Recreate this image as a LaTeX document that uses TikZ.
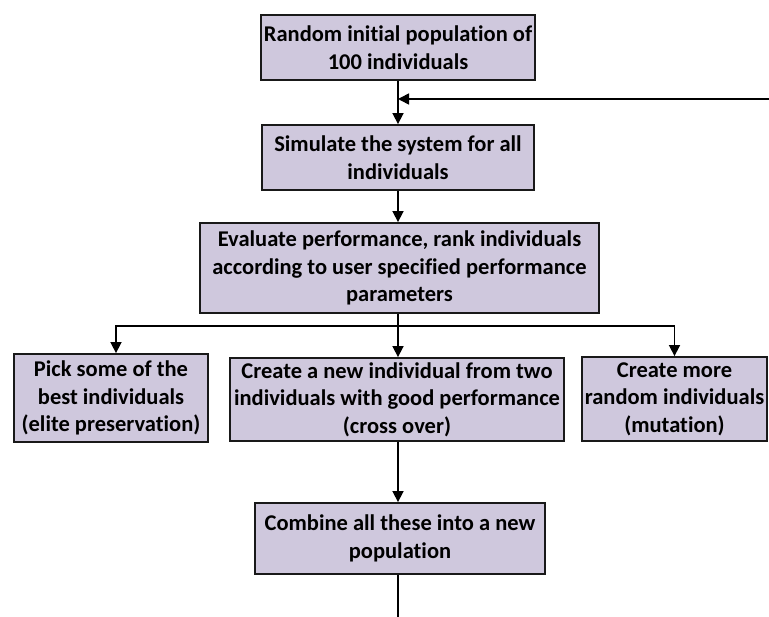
\documentclass[tikz,border=0pt]{standalone}
\usepackage{fontspec}
\setmainfont{Carlito}[Ligatures=NoCommon]
\usepackage{tikz}
\usetikzlibrary{arrows.meta,positioning,calc}
\usepackage{xcolor}
\definecolor{boxfill}{RGB}{207,200,221}

\begin{document}
\begin{tikzpicture}[x=1pt,y=-1pt,
    box/.style={draw=black!90, line width=1.8pt, fill=boxfill, align=center,
        inner sep=2pt, font=\fontsize{22.5}{27.5}\selectfont\bfseries},
    arr/.style={line width=1.6pt, -{Triangle[width=11pt,length=11pt]}},
    link/.style={line width=1.6pt}]
    \useasboundingbox (0,0) rectangle (769,617);

    % Boxes
    \node[box, minimum width=274pt, minimum height=65pt] (init) at (398,47.5)
        {Random initial population of\\100 individuals};
    \node[box, minimum width=272pt, minimum height=65pt] (sim) at (398,157.5)
        {Simulate the system for all\\individuals};
    \node[box, minimum width=399pt, minimum height=90pt] (eval) at (399.5,268)
        {Evaluate performance, rank individuals\\according to user specified performance\\parameters};
    \node[box, minimum width=194pt, minimum height=88pt] (pick) at (111,398)
        {Pick some of the\\best individuals\\(elite preservation)};
    \node[box, minimum width=334pt, minimum height=83pt] (cross) at (397,399.5)
        {Create a new individual from two\\individuals with good performance\\(cross over)};
    \node[box, minimum width=185pt, minimum height=84pt] (mut) at (674.5,399)
        {Create more\\random individuals\\(mutation)};
    \node[box, minimum width=290pt, minimum height=71pt] (comb) at (400,538.5)
        {Combine all these into a new\\population};

    % Main flow
    \coordinate (back) at (769,99);
    \coordinate (split) at (398,326);
    \coordinate (loop) at (398,617);
    \draw[arr] (init.south -| 398,0) -- (sim.north -| 398,0);
    \draw[arr] (back) -- (back -| 398,0);
    \draw[arr] (sim.south -| 398,0) -- (eval.north -| 398,0);

    % Three branches
    \draw[arr] (eval.south -| 398,0) -- (cross.north -| 398,0);
    \draw[arr] (split) -| ([xshift=5pt]pick.north);
    \draw[arr] (split) -| (mut.north);

    % Back to the loop
    \draw[arr] (cross.south -| 398,0) -- (comb.north -| 398,0);
    \draw[link] (comb.south -| 398,0) -- (loop);
\end{tikzpicture}
\end{document}
